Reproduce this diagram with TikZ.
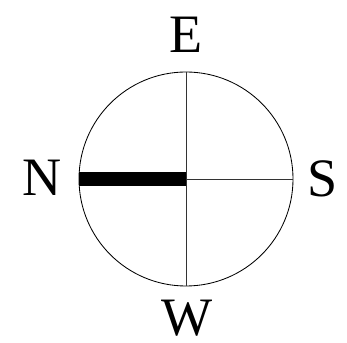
\documentclass[tikz,border=0pt]{standalone}
\usepackage{fontspec}
\setmainfont{Liberation Serif}
\usetikzlibrary{positioning}
\tikzset{
  dial/.style={circle,draw,line width=1.2pt,minimum size=10.7cm,inner sep=0pt},
  axisline/.style={line width=0.9pt,black!80},
  needle/.style={line width=0.7cm},
  compass/.style={font=\fontsize{77}{80}\selectfont,inner sep=0pt}
}
\begin{document}
\begin{tikzpicture}
  \useasboundingbox (0,0) rectangle (17.35,17.15);
  % dial
  \node[dial] (d) at (9.3,8.2) {};
  \draw[axisline] (d.north) -- (d.south);
  \draw[axisline] (d.center) -- (d.east);
  \draw[needle] (d.west) -- (d.center);

  % labels
  \node[compass] (e) at (9.3,15.4) {E};
  \node[compass] (w) at (9.35,1.25) {W};
  \node[compass] (n) at (2.1,8.25) {N};
  \node[compass] (s) at (16.15,8.2) {S};
\end{tikzpicture}
\end{document}
